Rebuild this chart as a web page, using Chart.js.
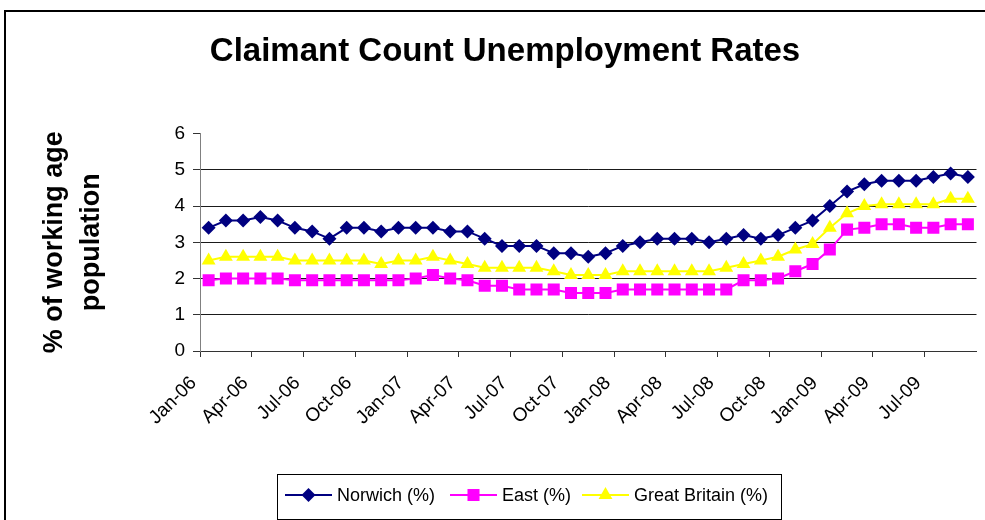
<!DOCTYPE html>
<html>
<head>
<meta charset="utf-8">
<title>Claimant Count Unemployment Rates</title>
<script src="https://cdn.jsdelivr.net/npm/chart.js@4.4.1/dist/chart.umd.min.js"></script>
<style>
    html, body { margin: 0; padding: 0; background: #fff; }
    body { width: 985px; height: 520px; overflow: hidden; position: relative; }
    #frame { position: absolute; left: 4px; top: 10px; width: 1000px; height: 600px; border: 2px solid #000; box-sizing: border-box; }
    #wrap { position: absolute; left: 0; top: 0; width: 985px; height: 520px; }
</style>
</head>
<body>
<div id="frame"></div>
<div id="wrap"><canvas id="chart"></canvas></div>
<script>
// ===== DATOS =====
const months = [
    'Jan-06', 'Feb-06', 'Mar-06', 'Apr-06', 'May-06', 'Jun-06', 'Jul-06', 'Aug-06', 'Sep-06', 'Oct-06', 'Nov-06', 'Dec-06',
    'Jan-07', 'Feb-07', 'Mar-07', 'Apr-07', 'May-07', 'Jun-07', 'Jul-07', 'Aug-07', 'Sep-07', 'Oct-07', 'Nov-07', 'Dec-07',
    'Jan-08', 'Feb-08', 'Mar-08', 'Apr-08', 'May-08', 'Jun-08', 'Jul-08', 'Aug-08', 'Sep-08', 'Oct-08', 'Nov-08', 'Dec-08',
    'Jan-09', 'Feb-09', 'Mar-09', 'Apr-09', 'May-09', 'Jun-09', 'Jul-09', 'Aug-09', 'Sep-09'
];

const norwich = [
    3.4, 3.6, 3.6, 3.7, 3.6, 3.4, 3.3, 3.1, 3.4, 3.4, 3.3, 3.4,
    3.4, 3.4, 3.3, 3.3, 3.1, 2.9, 2.9, 2.9, 2.7, 2.7, 2.6, 2.7,
    2.9, 3.0, 3.1, 3.1, 3.1, 3.0, 3.1, 3.2, 3.1, 3.2, 3.4, 3.6,
    4.0, 4.4, 4.6, 4.7, 4.7, 4.7, 4.8, 4.9, 4.8
];

const east = [
    1.95, 2.0, 2.0, 2.0, 2.0, 1.95, 1.95, 1.95, 1.95, 1.95, 1.95, 1.95,
    2.0, 2.1, 2.0, 1.95, 1.8, 1.8, 1.7, 1.7, 1.7, 1.6, 1.6, 1.6,
    1.7, 1.7, 1.7, 1.7, 1.7, 1.7, 1.7, 1.95, 1.95, 2.0, 2.2, 2.4,
    2.8, 3.35, 3.4, 3.5, 3.5, 3.4, 3.4, 3.5, 3.5
];

const greatBritain = [
    2.5, 2.6, 2.6, 2.6, 2.6, 2.5, 2.5, 2.5, 2.5, 2.5, 2.4, 2.5,
    2.5, 2.6, 2.5, 2.4, 2.3, 2.3, 2.3, 2.3, 2.2, 2.1, 2.1, 2.1,
    2.2, 2.2, 2.2, 2.2, 2.2, 2.2, 2.3, 2.4, 2.5, 2.6, 2.8, 2.95,
    3.4, 3.8, 4.0, 4.05, 4.05, 4.05, 4.05, 4.2, 4.2
];

const yTicks = [0, 1, 2, 3, 4, 5, 6];

// ===== ESTILO =====
const FONT = '"Liberation Sans", Arial, sans-serif';
const LEGEND_X = [285, 450, 582];   // inicio de cada muestra en la leyenda

// ===== LEYENDA CON CAJA (estilo Excel) =====
const boxedLegend = {
    id: 'boxedLegend',
    afterDraw(chart) {
        const ctx = chart.ctx;
        ctx.save();
        ctx.strokeStyle = '#000';
        ctx.lineWidth = 1;
        ctx.strokeRect(277.5, 474.5, 504, 45);

        ctx.font = '18px ' + FONT;
        ctx.textBaseline = 'middle';
        ctx.textAlign = 'left';

        chart.data.datasets.forEach((ds, i) => {
            const x = LEGEND_X[i];
            const y = 495;
            ctx.strokeStyle = ds.borderColor;
            ctx.lineWidth = ds.borderWidth;
            ctx.beginPath();
            ctx.moveTo(x, y);
            ctx.lineTo(x + 47, y);
            ctx.stroke();

            ctx.fillStyle = ds.pointBackgroundColor;
            Chart.helpers.drawPoint(ctx, {
                pointStyle: ds.pointStyle,
                radius: ds.pointRadius,
                rotation: 0,
                borderWidth: 0
            }, x + 23.5, y);

            ctx.fillStyle = '#000';
            ctx.fillText(ds.label, x + 52, y + 1);
        });
        ctx.restore();
    }
};

// ===== GRÁFICA =====
const ctx = document.getElementById('chart').getContext('2d');

new Chart(ctx, {
    type: 'line',
    data: {
        labels: months,
        datasets: [
            {
                label: 'Norwich (%)',
                data: norwich,
                borderColor: '#000080',
                backgroundColor: '#000080',
                pointBackgroundColor: '#000080',
                pointStyle: 'rectRot',
                pointRadius: 7,
                pointBorderWidth: 0,
                borderWidth: 2,
                tension: 0,
            },
            {
                label: 'East (%)',
                data: east,
                borderColor: '#ff00ff',
                backgroundColor: '#ff00ff',
                pointBackgroundColor: '#ff00ff',
                pointStyle: 'rect',
                pointRadius: 8.5,
                pointBorderWidth: 0,
                borderWidth: 2,
                tension: 0,
            },
            {
                label: 'Great Britain (%)',
                data: greatBritain,
                borderColor: '#ffff00',
                backgroundColor: '#ffff00',
                pointBackgroundColor: '#ffff00',
                pointStyle: 'triangle',
                pointRadius: 8,
                pointBorderWidth: 0,
                borderWidth: 2,
                tension: 0,
            }
        ]
    },
    options: {
        responsive: true,
        maintainAspectRatio: false,
        animation: false,
        layout: { padding: { left: 31, right: 6, top: 0, bottom: 0 } },
        plugins: {
            legend: { display: false },
            tooltip: { enabled: false },
            title: {
                display: true,
                text: 'Claimant Count Unemployment Rates',
                color: '#000',
                font: { family: FONT, size: 33, weight: 'bold' },
                padding: { top: 32, bottom: 62 }
            }
        },
        scales: {
            x: {
                offset: true,
                afterFit(scale) {
                    scale.height = 169;
                    scale.paddingRight = 0;   // las etiquetas giradas no piden margen derecho
                },
                grid: {
                    offset: true,
                    drawOnChartArea: false,
                    drawTicks: true,
                    tickLength: 6,
                    tickColor: c => (c.index % 3 === 0 ? '#333' : 'rgba(0,0,0,0)'),
                },
                border: { display: true, color: '#333', width: 1 },
                ticks: {
                    autoSkip: false,
                    minRotation: 45,
                    maxRotation: 45,
                    labelOffset: -15,
                    padding: 15,
                    color: '#000',
                    font: { family: FONT, size: 19 },
                    callback: function (v, i) { return i % 3 === 0 ? this.getLabelForValue(v) : ''; }
                }
            },
            y: {
                min: yTicks[0],
                max: yTicks[yTicks.length - 1],
                afterFit(scale) { scale.width = 169; },
                afterBuildTicks(scale) { scale.ticks = yTicks.map(v => ({ value: v })); },
                grid: {
                    color: c => (c.tick && c.tick.value === 6 ? 'rgba(0,0,0,0)' : '#1a1a1a'),
                    tickColor: '#333',
                    tickLength: 7,
                    lineWidth: 1,
                },
                border: { display: true, color: '#808080', width: 1 },
                ticks: {
                    color: '#000',
                    padding: 8,
                    font: { family: FONT, size: 19 }
                },
                title: {
                    display: true,
                    text: ['% of working age', 'population'],
                    color: '#000',
                    font: { family: FONT, size: 27, weight: 'bold', lineHeight: 1.37 },
                    padding: { top: 5.5, bottom: 0 }
                }
            }
        }
    },
    plugins: [boxedLegend]
});
</script>
</body>
</html>
